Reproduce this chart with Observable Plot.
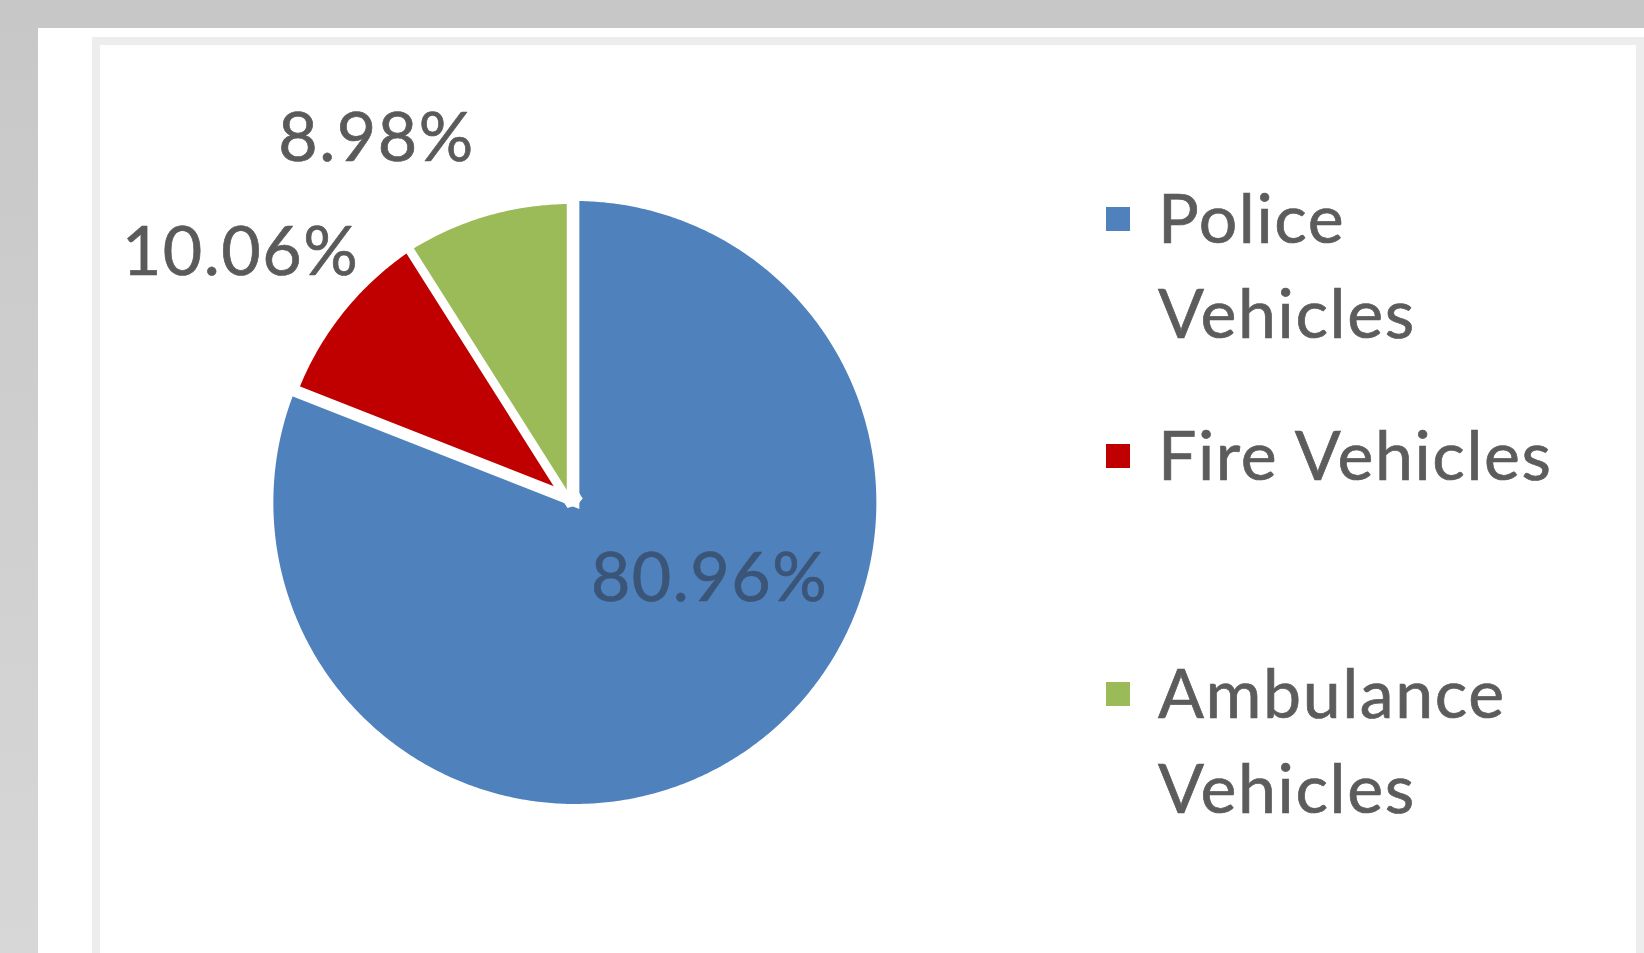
<!DOCTYPE html>
<html><head><meta charset="utf-8">
<script src="https://cdn.jsdelivr.net/npm/d3@7"></script>
<script src="https://cdn.jsdelivr.net/npm/@observablehq/plot@0.6"></script>
<style>
html,body{margin:0;padding:0;width:1644px;height:953px;overflow:hidden;}
body{background:linear-gradient(#c7c7c7,#d7d7d7);position:relative;font-family:Lato, sans-serif;}
#panel{position:absolute;left:38px;top:28px;right:0;bottom:0;background:#fff;}
#frame{position:absolute;left:92px;top:37px;right:0;bottom:-40px;border:8px solid #ededed;background:#fff;}
#chart{position:absolute;left:0;top:0;}
#legend{position:absolute;left:0;top:0;}
</style></head><body>
<div id="panel"></div><div id="frame"></div>
<div id="chart"></div>
<svg id="legend" width="1644" height="953"></svg>
<script>
// ---- data ----
const categories = ["Police Vehicles", "Fire Vehicles", "Ambulance Vehicles"];
const shares = [80.96, 10.06, 8.98];
const labels = ["80.96%", "10.06%", "8.98%"];
const legendLines = [["Police", "Vehicles"], ["Fire Vehicles"], ["Ambulance", "Vehicles"]];
const colors = ["#4f81bd", "#c00000", "#9bbb59"];

// ---- layout (styling, not data) ----
const CX = 566.6, CY = 490.6, R = 306;
const explode = [0.045, -0.05, -0.049];
const labelR = [0.548, 1.32, 1.307];
const labelShiftDeg = [-23.9, -3.5, -12.3];
const labelFill = ["#3a5578", "#5a5a5a", "#5a5a5a"];
const FONT = 68;

const arcs = d3.pie().sort(null).startAngle(0).endAngle(2 * Math.PI)(shares);
const slicePts = [];
const labelPts = [];
arcs.forEach((a, i) => {
  const mid = (a.startAngle + a.endAngle) / 2;
  const ox = explode[i] * Math.sin(mid), oy = explode[i] * Math.cos(mid);
  slicePts.push({name: categories[i], x: ox, y: oy});
  const n = Math.max(2, Math.ceil((a.endAngle - a.startAngle) / (Math.PI / 360)));
  for (let k = 0; k <= n; k++) {
    const t = a.startAngle + (a.endAngle - a.startAngle) * k / n;
    slicePts.push({name: categories[i], x: ox + Math.sin(t), y: oy + Math.cos(t)});
  }
  const la = mid + labelShiftDeg[i] * Math.PI / 180;
  labelPts.push({name: categories[i], text: labels[i], x: labelR[i] * Math.sin(la), y: labelR[i] * Math.cos(la), fill: labelFill[i]});
});

const chart = Plot.plot({
  width: 1644, height: 953,
  margin: 0,
  style: {background: "transparent", overflow: "visible"},
  x: {domain: [-1, 1], range: [CX - R, CX + R], axis: null},
  y: {domain: [-1, 1], range: [CY + R, CY - R], axis: null},
  color: {domain: categories, range: colors},
  marks: [
    Plot.line(slicePts, {x: "x", y: "y", z: "name", fill: "name", stroke: "white", strokeWidth: 9,
      strokeLinejoin: "miter", strokeMiterlimit: 2, curve: "linear-closed"}),
    Plot.text(labelPts, {x: "x", y: "y", text: "text", fill: (d) => d.fill, stroke: (d) => d.fill,
      strokeWidth: 0.7, fontSize: FONT, fontFamily: "Lato", textAnchor: "middle", lineAnchor: "middle"})
  ]
});
chart.querySelectorAll("text").forEach(t => t.style.letterSpacing = "1.5px");
document.getElementById("chart").appendChild(chart);

// ---- legend ----
const legend = d3.select("#legend");
const LX = 1106, TX = 1158, SW = 24;
const baselines = [[243, 338], [480], [718, 813]];
legendLines.forEach((lines, i) => {
  const b0 = baselines[i][0];
  legend.append("rect").attr("x", LX).attr("y", b0 - 24 - SW / 2).attr("width", SW).attr("height", SW).attr("fill", colors[i]);
  lines.forEach((ln, j) => {
    legend.append("text").attr("x", TX).attr("y", baselines[i][j]).attr("font-family", "Lato")
      .attr("font-size", FONT).attr("fill", "#5c5c5c").attr("stroke", "#5c5c5c").attr("stroke-width", 0.7)
      .style("letter-spacing", "1.6px").text(ln);
  });
});
</script>
</body></html>
